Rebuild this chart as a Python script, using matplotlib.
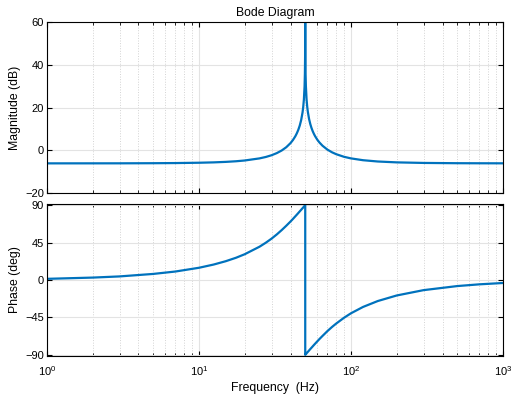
import numpy as np
from matplotlib import pyplot as plt
from matplotlib.ticker import LogLocator, NullFormatter

# values
freq_hz = [1, 2, 3, 5, 7, 10, 12.5, 15, 17.5, 20, 25, 27.5, 30, 32.5, 35, 37.5, 40,
           41.5, 43, 44, 45, 46, 47, 48, 48.5, 49, 49.5, 49.75, 49.9,
           50, 50,
           50.1, 50.25, 50.5, 51, 51.5, 52, 53, 54, 55, 56, 57, 58, 60, 62, 65, 70,
           75, 80, 90, 100, 120, 150, 200, 300, 500, 700, 1000]
mag_db = [-6.02, -6.01, -6.0, -5.95, -5.88, -5.73, -5.56, -5.33, -5.04, -4.68, -3.7,
          -3.04, -2.23, -1.23, -0.01, 1.51, 3.44,
          4.88, 6.6, 7.99, 9.62, 11.61, 14.18, 17.75, 20.3, 23.87, 29.93, 35.97, 43.94,
          90, 90,
          43.96, 36.01, 30.01, 24.03, 20.56, 18.11, 14.69, 12.3, 10.47, 9.0, 7.78,
          6.74, 5.05, 3.73, 2.2, 0.39,
          -0.85, -1.75, -2.96, -3.7, -4.55, -5.15, -5.56, -5.82, -5.95, -5.98, -6.0]
phase_deg = [1.4, 2.9, 4.3, 7.3, 10.2, 14.7, 18.6, 22.6, 26.7, 31.0, 40.0, 44.8, 49.7,
             54.8, 60.0, 65.2, 70.3,
             73.4, 76.5, 78.5, 80.5, 82.5, 84.4, 86.3, 87.2, 88.2, 89.1, 89.5, 89.8,
             90, -90,
             -89.8, -89.5, -89.1, -88.2, -87.3, -86.4, -84.7, -83.0, -81.4, -79.8,
             -78.2, -76.7, -73.8, -71.0, -67.2, -61.4,
             -56.5, -52.3, -45.4, -40.0, -32.4, -25.3, -18.6, -12.2, -7.3, -5.2, -3.6]

mag_ticks = [-20, 0, 20, 40, 60]
phase_ticks = [-90, -45, 0, 45, 90]

plt.rcParams['font.family'] = ['Liberation Sans', 'DejaVu Sans']
plt.rcParams['mathtext.fontset'] = 'custom'
plt.rcParams['mathtext.rm'] = 'Liberation Sans'
plt.rcParams['font.size'] = 8

line_color = '#0072BD'
label_size = 8.8

fig = plt.figure(figsize=(5.14, 4.01), dpi=100)
ax1 = fig.add_axes([0.0914, 0.518, 0.8872, 0.427])
ax2 = fig.add_axes([0.0914, 0.113, 0.8872, 0.3775])


def style(ax):
    ax.set_xscale('log')
    ax.set_xlim(1, 1000)
    ax.xaxis.set_minor_locator(LogLocator(base=10, subs=np.arange(2, 10)))
    ax.xaxis.set_minor_formatter(NullFormatter())
    ax.grid(True, which='major', color='#e3e3e3', linestyle='-', linewidth=0.8)
    ax.grid(True, which='minor', axis='x', color='#d3d3d3', linestyle=':', linewidth=0.7)
    ax.set_axisbelow(True)
    ax.tick_params(which='both', direction='in', top=True, right=True, labelsize=8)
    ax.tick_params(axis='y', pad=2)
    ax.tick_params(axis='x', pad=6)
    ax.tick_params(which='major', length=3.5, width=0.8)
    ax.tick_params(which='minor', length=2, width=0.6)
    for s in ax.spines.values():
        s.set_linewidth(0.8)


ax1.plot(freq_hz, mag_db, color=line_color, linewidth=1.6)
style(ax1)
ax1.set_ylim(-20, 60)
ax1.set_yticks(mag_ticks)
ax1.set_xticklabels([])
ax1.set_ylabel('Magnitude (dB)', fontsize=label_size, labelpad=3)
ax1.set_title('Bode Diagram', fontsize=label_size, pad=4)

ax2.plot(freq_hz, phase_deg, color=line_color, linewidth=1.6)
style(ax2)
ax2.set_ylim(-91, 91)
ax2.set_yticks(phase_ticks)
ax2.set_ylabel('Phase (deg)', fontsize=label_size, labelpad=3)
ax2.set_xlabel('Frequency  (Hz)', fontsize=label_size, labelpad=3)

fig.savefig('out.png', dpi=100)
